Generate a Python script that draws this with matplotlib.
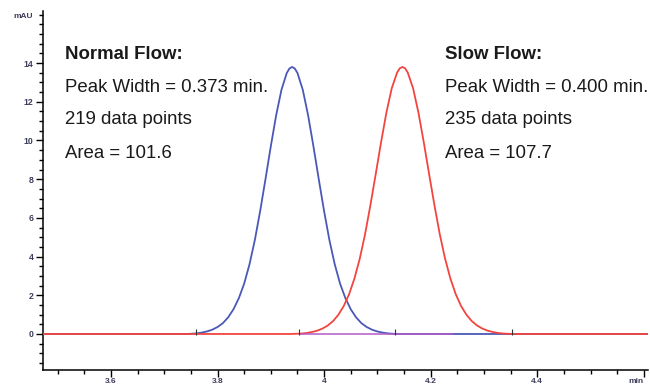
import numpy as np
import matplotlib.pyplot as plt
from matplotlib.ticker import MultipleLocator, FixedLocator

# chromatogram traces (min, mAU)
normal_time = [3.473, 3.74, 3.75, 3.76, 3.77, 3.78, 3.79, 3.80, 3.81, 3.82, 3.83, 3.84,
               3.85, 3.86, 3.87, 3.88, 3.89, 3.90, 3.91, 3.92, 3.93, 3.935, 3.94, 3.945,
               3.95, 3.96, 3.97, 3.98, 3.99, 4.00, 4.01, 4.02, 4.03, 4.04, 4.05, 4.06,
               4.07, 4.08, 4.09, 4.10, 4.11, 4.12, 4.13, 4.14, 4.608]
normal_mau = [0.0, 0.0, 0.01, 0.03, 0.07, 0.13, 0.22, 0.36, 0.56, 0.86, 1.28, 1.85,
              2.60, 3.60, 4.85, 6.35, 8.00, 9.70, 11.30, 12.62, 13.49, 13.72, 13.80, 13.72,
              13.49, 12.62, 11.30, 9.70, 8.00, 6.35, 4.85, 3.60, 2.60, 1.85, 1.28, 0.86,
              0.56, 0.36, 0.22, 0.13, 0.07, 0.03, 0.01, 0.0, 0.0]

slow_time = [3.473, 3.937, 3.947, 3.957, 3.967, 3.977, 3.987, 3.997, 4.007, 4.017, 4.027,
             4.037, 4.047, 4.057, 4.067, 4.077, 4.087, 4.097, 4.107, 4.117, 4.127, 4.137,
             4.142, 4.147, 4.152, 4.157, 4.167, 4.177, 4.187, 4.197, 4.207, 4.217, 4.227,
             4.237, 4.247, 4.257, 4.267, 4.277, 4.287, 4.297, 4.307, 4.317, 4.327, 4.337,
             4.347, 4.357, 4.608]
slow_mau = [0.0, 0.0, 0.01, 0.02, 0.05, 0.10, 0.17, 0.28, 0.44, 0.67, 1.00,
            1.45, 2.06, 2.87, 3.90, 5.17, 6.67, 8.28, 9.92, 11.45, 12.70, 13.51,
            13.73, 13.80, 13.73, 13.51, 12.70, 11.45, 9.92, 8.28, 6.67, 5.17, 3.90,
            2.87, 2.06, 1.45, 1.00, 0.67, 0.44, 0.28, 0.17, 0.10, 0.05, 0.02,
            0.01, 0.0, 0.0]

# integration start / end marks
normal_marks = [3.760, 4.133]
slow_marks = [3.953, 4.353]

normal_text = ["Normal Flow:", "Peak Width = 0.373 min.", "219 data points", "Area = 101.6"]
slow_text = ["Slow Flow:", "Peak Width = 0.400 min.", "235 data points", "Area = 107.7"]

x_ticks = [3.6, 3.8, 4.0, 4.2, 4.4, 4.6]
x_labels = ["3.6", "3.8", "4", "4.2", "4.4", "min"]
y_ticks = [0, 2, 4, 6, 8, 10, 12, 14]

blue = "#4a58b8"
red = "#f2453f"
tick_col = "#3c3c5c"

plt.rcParams['font.family'] = ['Liberation Sans', 'DejaVu Sans']

fig = plt.figure(figsize=(6.5, 3.87), dpi=100)
ax = fig.add_axes([0.0666, 0.044, 0.9304, 0.928])

ax.plot(normal_time, normal_mau, color=blue, lw=1.3, zorder=3)
ax.plot(slow_time, slow_mau, color=red, lw=1.3, zorder=4)
ax.plot([3.955, 4.24], [0, 0], color="#b45ac8", lw=1.1, zorder=5)
ax.plot(normal_marks + slow_marks, [0.1] * 4, ls="none", marker="|",
        ms=4, mew=0.8, color="#333333", zorder=6)

ax.set_xlim(3.473, 4.608)
ax.set_ylim(-1.86, 16.7)

for s in ["top", "right"]:
    ax.spines[s].set_visible(False)
for s in ["left", "bottom"]:
    ax.spines[s].set_linewidth(1.1)

ax.xaxis.set_major_locator(FixedLocator(x_ticks))
ax.set_xticklabels(x_labels)
ax.xaxis.set_minor_locator(MultipleLocator(0.05))
ax.yaxis.set_major_locator(FixedLocator(y_ticks))
ax.yaxis.set_minor_locator(MultipleLocator(0.5))
ax.tick_params(which="major", length=5, width=1, labelsize=6.3,
               labelcolor=tick_col, pad=2)
ax.tick_params(axis="x", which="major", pad=0.8, labelsize=6)
ax.tick_params(which="minor", length=3, width=1)
for lab in ax.get_xticklabels() + ax.get_yticklabels():
    lab.set_fontweight("bold")
ax.get_xticklabels()[-1].set_horizontalalignment("right")

ax.text(-0.018, 0.983, "mAU", transform=ax.transAxes, ha="right", va="center",
        fontsize=6, fontweight="bold", color=tick_col)

rows = [14.20, 12.52, 10.84, 9.08]
for x0, lines in [(3.5136, normal_text), (4.2272, slow_text)]:
    for i, (y0, s) in enumerate(zip(rows, lines)):
        ax.text(x0, y0, s, fontsize=13.4, color="#1a1a1a", va="baseline",
                fontweight="bold" if i == 0 else "normal")

fig.savefig("out.png", dpi=100)
